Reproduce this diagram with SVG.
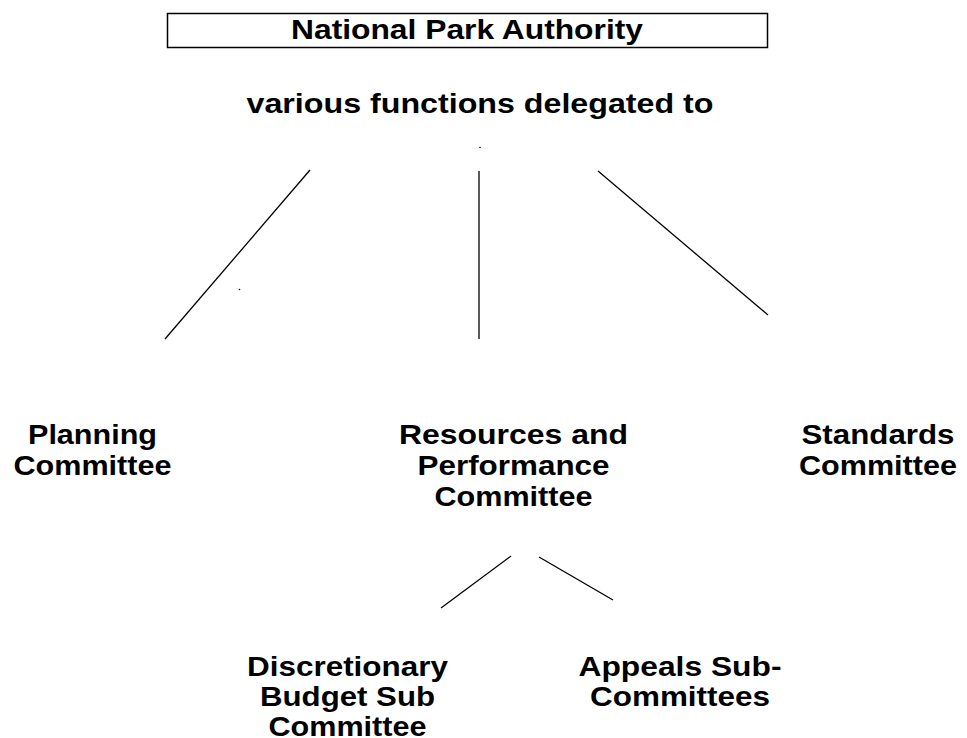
<svg xmlns="http://www.w3.org/2000/svg" width="967" height="738" viewBox="0 0 967 738">
<style>
text{font-family:"Liberation Sans",Arial,sans-serif;font-weight:bold;font-size:28px;fill:#000;text-anchor:middle}
.c line{stroke:#000;stroke-width:1.3}
</style>
<rect width="967" height="738" fill="#fff"/>
<g id="npa">
<rect x="167.5" y="13.5" width="600" height="34" fill="#fff" stroke="#000" stroke-width="1.5"/>
<text x="467" y="39" textLength="352" lengthAdjust="spacingAndGlyphs">National Park Authority</text>
</g>
<g id="delegated">
<text x="480" y="113" textLength="467" lengthAdjust="spacingAndGlyphs">various functions delegated to</text>
</g>
<g class="c" id="connectors">
<line x1="310" y1="170" x2="165" y2="339"/>
<line x1="479" y1="171" x2="479" y2="339"/>
<line x1="598" y1="171" x2="768" y2="315"/>
<line x1="511" y1="556" x2="441" y2="608"/>
<line x1="539" y1="557" x2="613" y2="600"/>
</g>
<g id="dots">
<circle cx="480" cy="147.5" r="0.8" fill="#000"/>
<circle cx="239.5" cy="289.5" r="0.8" fill="#000"/>
</g>
<g id="planning">
<text x="92.5" y="444" textLength="129" lengthAdjust="spacingAndGlyphs">Planning</text>
<text x="92.5" y="475" textLength="158" lengthAdjust="spacingAndGlyphs">Committee</text>
</g>
<g id="resources">
<text x="513.5" y="444" textLength="229" lengthAdjust="spacingAndGlyphs">Resources and</text>
<text x="513.5" y="475" textLength="192" lengthAdjust="spacingAndGlyphs">Performance</text>
<text x="513.5" y="506" textLength="158" lengthAdjust="spacingAndGlyphs">Committee</text>
</g>
<g id="standards">
<text x="878" y="444" textLength="153" lengthAdjust="spacingAndGlyphs">Standards</text>
<text x="878" y="475" textLength="158" lengthAdjust="spacingAndGlyphs">Committee</text>
</g>
<g id="discretionary">
<text x="347.5" y="676" textLength="201" lengthAdjust="spacingAndGlyphs">Discretionary</text>
<text x="347.5" y="706" textLength="175" lengthAdjust="spacingAndGlyphs">Budget Sub</text>
<text x="347.5" y="736" textLength="158" lengthAdjust="spacingAndGlyphs">Committee</text>
</g>
<g id="appeals">
<text x="680" y="676" textLength="203" lengthAdjust="spacingAndGlyphs">Appeals Sub-</text>
<text x="680" y="706" textLength="180" lengthAdjust="spacingAndGlyphs">Committees</text>
</g>
</svg>
